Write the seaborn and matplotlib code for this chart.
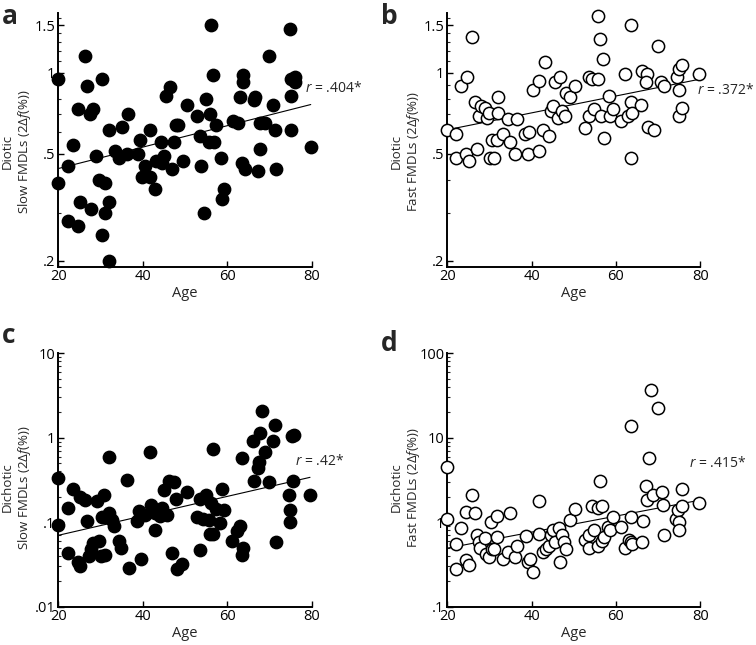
import numpy as np
import pandas as pd
import matplotlib
matplotlib.use("Agg")
import matplotlib.pyplot as plt
from matplotlib.ticker import FixedLocator, NullFormatter
import seaborn as sns

sns.set_theme(style="ticks")
plt.rcParams["font.family"] = ["Open Sans", "DejaVu Sans"]
plt.rcParams["mathtext.fontset"] = "custom"
plt.rcParams["mathtext.rm"] = "Open Sans"
plt.rcParams["mathtext.it"] = "Open Sans:italic"

# --- data (age, FMDL in 2*delta f %) ---
age_a = [20, 20, 22.2, 22.2, 23.4, 24.7, 24.7, 25.1, 26.2, 26.9, 27.5, 28.2, 27.7, 29.0,
         29.6, 30.4, 30.4, 31.0, 31.1, 32.0, 32.0, 32.0, 33.3, 34.4, 35.0, 36.3, 36.6,
         38.8, 39.3, 39.7, 40.4, 41.7, 41.8, 42.9, 43.0, 44.2, 44.6, 45.1, 45.5, 46.4,
         46.9, 47.4, 47.8, 48.4, 49.4, 50.4, 52.8, 53.5, 53.7, 54.5, 55.0, 55.7, 55.8,
         56.2, 56.7, 56.9, 57.3, 58.4, 58.8, 59.2, 61.4, 62.4, 63.0, 63.6, 63.6, 63.4,
         64.1, 66.2, 66.6, 67.3, 67.7, 67.8, 69.0, 69.9, 70.8, 71.2, 71.6, 74.8, 75.0,
         75.0, 75.0, 76.0, 76.0, 79.7]
fmdl_a = [0.95, 0.39, 0.45, 0.28, 0.54, 0.27, 0.73, 0.33, 1.15, 0.89, 0.70, 0.73, 0.31, 0.49,
          0.40, 0.95, 0.25, 0.39, 0.30, 0.33, 0.20, 0.61, 0.51, 0.48, 0.63, 0.50, 0.70,
          0.50, 0.56, 0.41, 0.45, 0.41, 0.61, 0.37, 0.47, 0.55, 0.46, 0.49, 0.82, 0.88,
          0.44, 0.55, 0.64, 0.64, 0.47, 0.76, 0.69, 0.58, 0.45, 0.30, 0.80, 0.55, 0.70,
          1.50, 0.98, 0.55, 0.64, 0.48, 0.34, 0.37, 0.66, 0.65, 0.81, 0.98, 0.92, 0.46,
          0.44, 0.79, 0.81, 0.43, 0.52, 0.65, 0.65, 1.15, 0.76, 0.61, 0.44, 1.45, 0.95,
          0.82, 0.61, 0.96, 0.92, 0.53]

age_b = [20.0, 22.1, 22.1, 23.3, 24.7, 24.5, 25.1, 25.9, 26.6, 27.1, 27.4, 27.9, 28.9, 29.4,
         30.0, 30.2, 30.6, 31.0, 31.9, 32.0, 32.0, 33.2, 34.4, 34.9, 36.1, 36.6, 38.5,
         39.3, 39.1, 40.3, 41.7, 41.7, 42.8, 43.1, 44.1, 44.7, 45.1, 45.5, 46.2, 46.8,
         47.3, 47.8, 48.2, 49.2, 50.2, 52.7, 53.5, 53.5, 54.3, 54.9, 55.7, 55.7, 56.1,
         56.5, 56.9, 57.2, 58.3, 58.7, 59.3, 61.3, 62.1, 62.8, 63.5, 63.5, 63.5, 63.8,
         66.0, 66.2, 67.4, 67.2, 67.7, 69.0, 69.9, 70.6, 71.3, 74.5, 74.9, 74.9, 74.9,
         75.7, 75.7, 79.6]
fmdl_b = [0.61, 0.59, 0.48, 0.89, 0.96, 0.50, 0.47, 1.35, 0.78, 0.52, 0.69, 0.75, 0.74, 0.68,
          0.71, 0.48, 0.56, 0.48, 0.56, 0.81, 0.71, 0.59, 0.67, 0.55, 0.50, 0.67, 0.59,
          0.60, 0.50, 0.86, 0.51, 0.93, 0.61, 1.09, 0.58, 0.72, 0.75, 0.92, 0.68, 0.96,
          0.72, 0.69, 0.84, 0.81, 0.89, 0.62, 0.69, 0.96, 0.95, 0.73, 0.95, 1.62, 1.33,
          0.69, 1.12, 0.57, 0.82, 0.69, 0.73, 0.66, 0.99, 0.69, 1.50, 0.48, 0.78, 0.71,
          0.76, 1.01, 0.99, 0.92, 0.63, 0.61, 1.26, 0.92, 0.89, 0.96, 1.03, 0.86, 0.69,
          1.07, 0.74, 0.99]

age_c = [20, 20, 22.2, 22.2, 23.4, 24.7, 25.1, 25.1, 26.3, 26.9, 27.3, 27.7, 28.3, 29.1,
         29.6, 30.0, 30.3, 30.8, 31.1, 31.6, 32.0, 32.0, 32.6, 33.3, 34.4, 34.8, 36.2,
         36.7, 38.7, 39.2, 39.7, 40.5, 41.7, 41.9, 42.9, 42.9, 44.1, 44.6, 45.0, 45.8,
         46.3, 46.9, 47.4, 47.8, 48.2, 49.4, 50.4, 52.8, 53.6, 53.6, 54.3, 54.9, 55.7,
         55.9, 56.2, 56.6, 56.6, 57.3, 58.4, 58.8, 59.2, 61.2, 62.2, 63.0, 63.4, 63.6,
         63.8, 66.2, 66.4, 67.2, 67.5, 67.8, 68.2, 69.0, 69.9, 70.8, 71.2, 71.5, 74.6,
         74.9, 74.9, 75.3, 75.6, 75.9, 79.6]
fmdl_c = [0.33, 0.094, 0.148, 0.043, 0.25, 0.034, 0.030, 0.20, 0.185, 0.103, 0.040, 0.048,
          0.057, 0.18, 0.060, 0.040, 0.116, 0.21, 0.041, 0.116, 0.129, 0.60, 0.107, 0.090,
          0.060, 0.050, 0.32, 0.029, 0.103, 0.137, 0.037, 0.123, 0.67, 0.16, 0.082, 0.129,
          0.118, 0.148, 0.24, 0.123, 0.31, 0.043, 0.30, 0.19, 0.028, 0.032, 0.23, 0.115,
          0.19, 0.047, 0.11, 0.21, 0.107, 0.073, 0.17, 0.073, 0.74, 0.145, 0.097, 0.25,
          0.14, 0.060, 0.078, 0.091, 0.58, 0.041, 0.049, 0.91, 0.31, 0.44, 0.51, 1.15,
          2.05, 0.68, 0.30, 0.91, 1.40, 0.059, 0.21, 0.14, 0.10, 1.04, 0.31, 1.08, 0.21]

age_d = [20, 20, 22.0, 22.0, 23.3, 24.5, 24.5, 25.1, 25.9, 26.6, 27.0, 27.4, 27.8, 28.9,
         29.1, 30.0, 30.4, 30.6, 31.0, 31.9, 31.8, 33.2, 34.4, 34.9, 36.1, 36.6, 38.7,
         39.1, 39.5, 40.3, 41.7, 41.7, 42.8, 43.3, 44.1, 44.5, 45.1, 45.5, 46.5, 46.8,
         47.3, 47.7, 48.1, 49.2, 50.2, 52.7, 53.5, 53.5, 54.3, 54.9, 55.7, 55.7, 56.1,
         56.7, 56.7, 57.2, 58.1, 58.7, 59.3, 61.3, 62.1, 63.0, 63.5, 63.5, 63.6, 63.8,
         66.2, 66.4, 67.2, 67.4, 67.8, 68.2, 68.8, 69.9, 70.8, 71.1, 71.5, 74.3, 74.7,
         74.9, 74.9, 75.7, 75.7, 79.6]
fmdl_d = [4.5, 1.09, 0.56, 0.28, 0.86, 1.32, 0.36, 0.31, 2.08, 1.27, 0.71, 0.58, 0.50, 0.65,
          0.42, 0.39, 1.0, 0.48, 0.48, 1.18, 0.67, 0.37, 0.45, 1.27, 0.39, 0.53, 0.68,
          0.34, 0.37, 0.26, 1.77, 0.73, 0.44, 0.48, 0.52, 0.71, 0.80, 0.58, 0.86, 0.34,
          0.70, 0.58, 0.48, 1.06, 1.45, 0.61, 0.50, 0.70, 1.55, 0.80, 1.48, 0.52, 3.05,
          1.55, 0.60, 0.67, 0.88, 0.80, 1.16, 0.88, 0.50, 0.62, 13.9, 1.16, 0.58, 0.56,
          0.58, 1.04, 2.66, 1.85, 5.75, 36.9, 2.08, 22.8, 2.26, 1.62, 0.70, 1.09, 1.39,
          1.0, 0.80, 2.50, 1.55, 1.69]

r_labels = [".404*", ".372*", ".42*", ".415*"]
conditions = ["Diotic", "Diotic", "Dichotic", "Dichotic"]
speeds = ["Slow", "Fast", "Slow", "Fast"]

ticks_top = [0.2, 0.5, 1, 1.5]
ticklabels_top = [".2", ".5", "1", "1.5"]
ticks_c = [0.01, 0.1, 1, 10]
ticklabels_c = [".01", ".1", "1", "10"]
ticks_d = [0.1, 1, 10, 100]
ticklabels_d = [".1", "1", "10", "100"]


def decade_minors(lo, hi):
    out = []
    for e in range(int(np.floor(np.log10(lo))), int(np.ceil(np.log10(hi)))):
        out += [m * 10.0 ** e for m in range(2, 10)]
    return out


fig = plt.figure(figsize=(7.56, 6.45), dpi=100)
W, H = 756, 645


def add_axes(x0, x1, ytop, ybot):
    return fig.add_axes([x0 / W, 1 - ybot / H, (x1 - x0) / W, (ybot - ytop) / H])


axes = [
    add_axes(58.3, 312.0, 13.3, 266.7),
    add_axes(447.3, 700.3, 13.3, 266.7),
    add_axes(58.3, 311.7, 353.3, 606.7),
    add_axes(447.3, 700.3, 353.3, 606.7),
]

top_minor = list(np.round(np.arange(0.2, 1.65, 0.1), 2))
panels = [
    dict(age=age_a, val=fmdl_a, filled=True, ylim=(0.19, 1.66), ticks=ticks_top,
         labels=ticklabels_top, minor=top_minor, rpos=(78.3, 0.875), ly=0.455),
    dict(age=age_b, val=fmdl_b, filled=False, ylim=(0.19, 1.66), ticks=ticks_top,
         labels=ticklabels_top, minor=top_minor, rpos=(79.2, 0.86), ly=0.455),
    dict(age=age_c, val=fmdl_c, filled=True, ylim=(0.01, 10), ticks=ticks_c,
         labels=ticklabels_c, minor=decade_minors(0.01, 10), rpos=(76.0, 0.52), ly=0.47),
    dict(age=age_d, val=fmdl_d, filled=False, ylim=(0.1, 100), ticks=ticks_d,
         labels=ticklabels_d, minor=decade_minors(0.1, 100), rpos=(77.4, 5.0), ly=0.47),
]

for i, (ax, p) in enumerate(zip(axes, panels)):
    df = pd.DataFrame({"age": p["age"], "fmdl": p["val"]})
    face = "black" if p["filled"] else "white"
    sns.scatterplot(data=df, x="age", y="fmdl", ax=ax, s=78, color=face,
                    edgecolor="black", linewidth=1.1, zorder=3, clip_on=False)

    # regression of log10(FMDL) on age
    m, b = np.polyfit(df["age"], np.log10(df["fmdl"]), 1)
    xs = np.array([df["age"].min(), df["age"].max()])
    ax.plot(xs, 10 ** (m * xs + b), color="black", linewidth=0.8, zorder=2)

    ax.set_yscale("log")
    ax.set_xlim(20, 80)
    ax.set_ylim(*p["ylim"])
    ax.set_xticks([20, 40, 60, 80])
    ax.yaxis.set_major_locator(FixedLocator(p["ticks"]))
    ax.set_yticklabels(p["labels"])
    ax.yaxis.set_minor_locator(FixedLocator(p["minor"]))
    ax.yaxis.set_minor_formatter(NullFormatter())
    ax.tick_params(axis="both", which="major", direction="in", length=4, width=1,
                   labelsize=10.5, pad=2, colors="black")
    ax.tick_params(axis="y", which="minor", direction="in", length=2, width=0.8)

    ax.set_xlabel("Age", fontsize=10.5, labelpad=1)
    ax.set_ylabel(f"{conditions[i]}\n{speeds[i]} FMDLs (2$\\mathit{{Δf}}$(%))",
                  fontsize=9.5, linespacing=1.2)
    ax.yaxis.set_label_coords(-0.10, p["ly"])
    for side in ["left", "bottom"]:
        ax.spines[side].set_linewidth(1.4)
        ax.spines[side].set_color("black")
    sns.despine(ax=ax)

    ax.text(p["rpos"][0], p["rpos"][1], "$r$ = " + r_labels[i], fontsize=10,
            ha="left", va="center", clip_on=False)

for letter, (x, y) in zip("abcd", [(2, 3), (381, 3), (2, 322), (381, 330)]):
    fig.text(x / W, 1 - y / H, letter, fontsize=19, fontweight="bold", va="top",
             ha="left")

fig.savefig("out.png", dpi=100)
